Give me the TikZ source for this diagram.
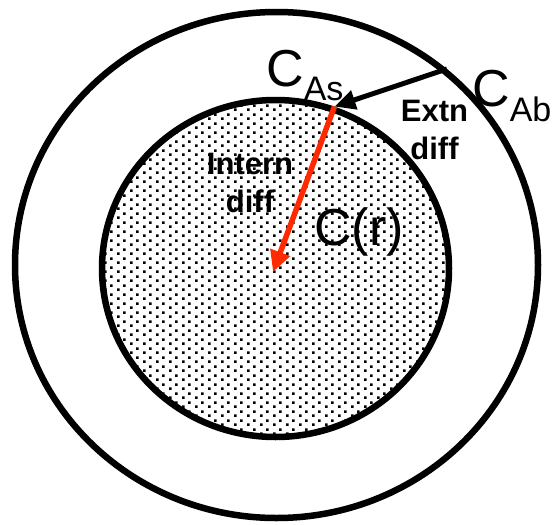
\documentclass[tikz,border=0pt]{standalone}
\usepackage{fontspec}
\setmainfont{Liberation Sans}
\usepackage{xcolor}
\usetikzlibrary{shapes.geometric,arrows.meta,patterns.meta}
\definecolor{fluxred}{HTML}{FF2A00}

\tikzdeclarepattern{
  name=spots,
  tile size={(13pt,9pt)},
  bottom left={(0pt,0pt)}, top right={(13pt,9pt)},
  code={
    \fill (0pt,0pt) rectangle (2.8pt,2.8pt);
    \fill (6.5pt,4.5pt) rectangle (9.3pt,7.3pt);
  }
}

\begin{document}
\begin{tikzpicture}[x=1pt,y=-1pt,
  ring/.style={draw, ellipse, line width=6.5pt, inner sep=0pt},
  bigtext/.style={anchor=base west, inner sep=0pt, font=\fontsize{52}{52}\selectfont},
  boldtext/.style={anchor=north, align=center, inner sep=0pt, font=\bfseries\fontsize{31}{38}\selectfont}]
  \useasboundingbox (0,0) rectangle (552,525);
  % bulk solution and particle
  \node[ring, minimum width=523pt, minimum height=506pt] (outer) at (276.5,265) {};
  \node[ring, pattern=spots, minimum width=347pt, minimum height=337pt] (inner) at (275.5,268.5) {};
  \coordinate (mid) at (273,272);
  % diffusion steps
  \draw[line width=5pt, -{Triangle[length=21pt,width=19pt]}] (outer.49) -- (inner.70);
  \draw[fluxred, line width=5.5pt, -{Triangle[length=21pt,width=20pt]}] (inner.70) -- (mid);
  \node[bigtext] (cas) at (266,86) {C\raisebox{-14pt}{\fontsize{34}{34}\selectfont As}};
  \node[bigtext] (cab) at (472,106) {C\raisebox{-15pt}{\fontsize{34}{34}\selectfont Ab}};
  \node[boldtext] (extn) at (434.5,100) {Extn\\diff};
  \node[boldtext] (intern) at (250,153) {Intern\\diff};
  \node[bigtext] (cr) at (314,245) {C(r)};
\end{tikzpicture}
\end{document}
